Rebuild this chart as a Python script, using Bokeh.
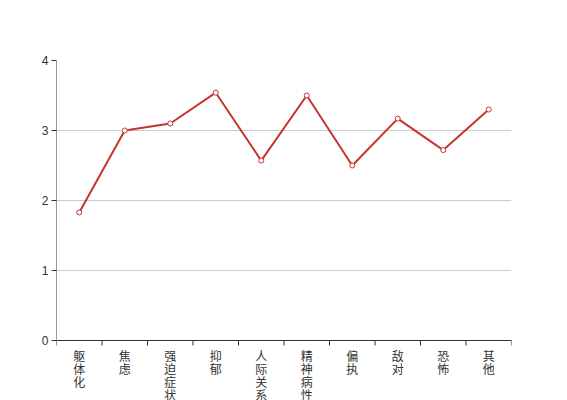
from bokeh.plotting import figure
from bokeh.models import Range1d, FixedTicker, ColumnDataSource
from bokeh.embed import file_html
from bokeh.resources import INLINE

categories = ["躯体化", "焦虑", "强迫症状", "抑郁", "人际关系敏感", "精神病性", "偏执", "敌对", "恐怖", "其他"]
values = [1.83, 3.00, 3.10, 3.54, 2.57, 3.50, 2.50, 3.17, 2.72, 3.30]
y_ticks = [0, 1, 2, 3, 4]

n = len(categories)
xs = [i + 0.5 for i in range(n)]
bounds = list(range(n + 1))

PX_PER_UNIT = 70.0          # frame height 280px for 0..4
BELOW_PX = 60.0             # room for the category labels inside the frame
TICK_PX = 5.0
AXIS_COLOR = "#333333"

p = figure(width=567, height=400, output_backend="svg", toolbar_location=None,
           x_range=Range1d(0, n), y_range=Range1d(-BELOW_PX / PX_PER_UNIT, max(y_ticks)),
           x_axis_location=None,
           min_border_left=56, min_border_right=56, min_border_top=60, min_border_bottom=0)
p.outline_line_color = None
p.background_fill_color = "white"
p.border_fill_color = "white"

# y axis (ticks + labels only; the line is drawn from 0 to 4 below)
p.yaxis.ticker = FixedTicker(ticks=y_ticks)
p.yaxis.axis_line_color = None
p.yaxis.major_tick_line_color = AXIS_COLOR
p.yaxis.major_tick_out = 5
p.yaxis.major_tick_in = 0
p.yaxis.minor_tick_line_color = None
p.yaxis.major_label_standoff = 3
p.yaxis.major_label_text_font = "Liberation Sans"
p.yaxis.major_label_text_font_size = "12px"
p.yaxis.major_label_text_color = AXIS_COLOR

p.xgrid.grid_line_color = None
p.ygrid.grid_line_color = "#cccccc"
p.ygrid.ticker = FixedTicker(ticks=y_ticks)

# axis lines
p.segment(x0=[0], y0=[0], x1=[n], y1=[0], line_color=AXIS_COLOR, line_width=1)
p.segment(x0=[0], y0=[0], x1=[0], y1=[max(y_ticks)], line_color=AXIS_COLOR, line_width=1)
# x ticks at category boundaries
tick_len = TICK_PX / PX_PER_UNIT
p.segment(x0=bounds, y0=[0] * len(bounds), x1=bounds, y1=[-tick_len] * len(bounds),
          line_color=AXIS_COLOR, line_width=1)

# category labels (vertical, one character per line)
lab_src = ColumnDataSource(dict(x=xs, y=[0] * n, text=["\n".join(c) for c in categories]))
p.text("x", "y", text="text", source=lab_src, y_offset=6,
       text_align="center", text_baseline="top",
       text_font={"value": "Noto Sans CJK SC"}, text_font_size="12px",
       text_color=AXIS_COLOR, text_line_height=0.78)

src = ColumnDataSource(dict(x=xs, y=values))
p.line("x", "y", source=src, line_color="#c23531", line_width=2)
p.scatter("x", "y", source=src, size=5, fill_color="white", line_color="#c23531", line_width=1)

open("out.html", "w").write(file_html(p, INLINE))
